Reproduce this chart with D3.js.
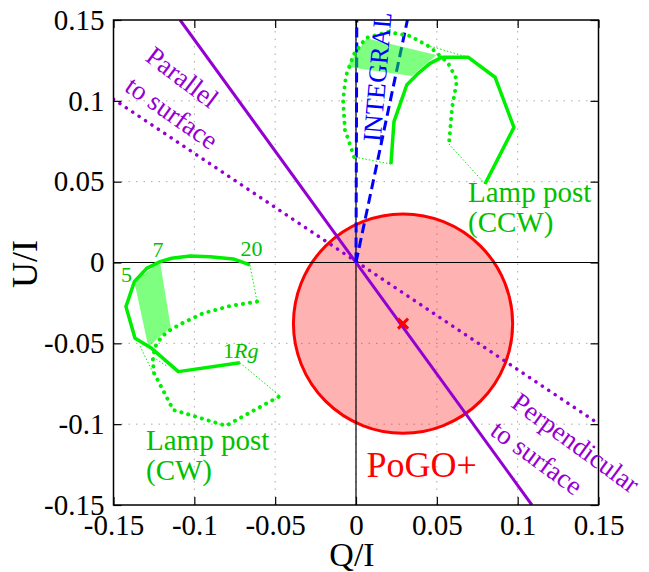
<!DOCTYPE html>
<meta charset="utf-8">
<title>Q/I - U/I</title>
<style>
body {
  margin: 0px;
  background: #fff;
}
svg, svg text {
  font-family: "Liberation Serif", Tinos, "Times New Roman", Times, serif !important;
}
.grid line {
  stroke: #aaaaaa;
  stroke-width: 1;
  stroke-dasharray: 1.5, 6;
}
</style>
<script src="https://d3js.org/d3.v7.min.js"></script>
<body>
<script>
var width = 649, height = 572;

// tick values and their labels
var ticks = [-0.15, -0.1, -0.05, 0, 0.05, 0.1, 0.15];
var tickLabels = ["-0.15", "-0.1", "-0.05", "0", "0.05", "0.1", "0.15"];

// lamp post, clockwise: thick solid (1 Rg ... 20 Rg) and thick dotted track
var cwSolid = [[-0.0718, -0.062], [-0.1099, -0.0675], [-0.1264, -0.0531], [-0.1367, -0.0469],
  [-0.1423, -0.0273], [-0.1371, -0.0119], [-0.1295, -0.0036], [-0.1212, 0.0005],
  [-0.114, 0.0026], [-0.1027, 0.004], [-0.0903, 0.0036], [-0.0759, 0.0022], [-0.0656, -0.0015]];
var cwDotted = [[-0.0612, -0.0242], [-0.0779, -0.0269], [-0.0946, -0.0314], [-0.1076, -0.0376],
  [-0.115, -0.0418], [-0.1202, -0.0459], [-0.1243, -0.0521], [-0.1257, -0.0603],
  [-0.1249, -0.0685], [-0.113, -0.0912], [-0.0804, -0.101], [-0.047, -0.0826]];
var cwBand = [[-0.1371, -0.0119], [-0.1212, 0.0005], [-0.1146, -0.0401], [-0.1285, -0.0521]];
var cwLinks = [
  [[-0.0656, -0.0015], [-0.0612, -0.0242]],
  [[-0.0718, -0.062], [-0.047, -0.0826]],
  [[-0.1336, -0.0517], [-0.1249, -0.0696]],
  [[-0.1254, -0.0586], [-0.1171, -0.064]]
];

// lamp post, counter-clockwise
var ccwSolid = [[0.0216, 0.0609], [0.0235, 0.0871], [0.0314, 0.1098], [0.0385, 0.117],
  [0.0458, 0.1232], [0.053, 0.1269], [0.0695, 0.1269], [0.086, 0.1146], [0.0977, 0.0836],
  [0.0798, 0.0486]];
var ccwDotted = [[-0.0012, 0.0653], [-0.0068, 0.082], [-0.008, 0.1005], [-0.0062, 0.1154],
  [-0.0012, 0.129], [0.0062, 0.1389], [0.0198, 0.1426], [0.0334, 0.1401], [0.0458, 0.1333],
  [0.0569, 0.1234], [0.0625, 0.1129], [0.0594, 0.0956], [0.0575, 0.0733]];
var ccwBand = [[0.0066, 0.1387], [0.0498, 0.1284], [0.0345, 0.1154], [-0.0057, 0.1211]];
var ccwLinks = [
  [[0.0216, 0.0609], [-0.0012, 0.0653]],
  [[0.0798, 0.0486], [0.0575, 0.0733]],
  [[0.0437, 0.1345], [0.0695, 0.1269]]
];

// reference directions
var parallelLine = [[-0.1088, 0.15], [0.1088, -0.15]];
var perpLine = [[-0.15, 0.101], [0.149, -0.099]];
var integralLines = [[[0, 0], [0.0005, 0.15]], [[0, 0], [0.0318, 0.15]]];

// PoGO+ measurement: centre and radius
var pogo = {q: 0.0291, u: -0.0378, r: 0.0678};

var x = d3.scaleLinear().domain([-0.15, 0.15]).range([113.5, 598.5]);
var y = d3.scaleLinear().domain([-0.15, 0.15]).range([505, 20]);
var line = d3.line().x(function(d) { return x(d[0]); }).y(function(d) { return y(d[1]); });

var svg = d3.select("body").append("svg")
    .attr("width", width)
    .attr("height", height);

svg.append("clipPath").attr("id", "plot")
  .append("rect")
    .attr("x", x(-0.15)).attr("y", y(0.15))
    .attr("width", x(0.15) - x(-0.15)).attr("height", y(-0.15) - y(0.15));

// grid
var grid = svg.append("g").attr("class", "grid");
grid.selectAll(".gx").data(ticks.slice(1, -1)).enter().append("line")
    .attr("x1", x).attr("x2", x).attr("y1", y(-0.15)).attr("y2", y(0.15));
grid.selectAll(".gy").data(ticks.slice(1, -1)).enter().append("line")
    .attr("y1", y).attr("y2", y).attr("x1", x(-0.15)).attr("x2", x(0.15));

var plot = svg.append("g").attr("clip-path", "url(#plot)");

// PoGO+ circle
plot.append("circle")
    .attr("cx", x(pogo.q)).attr("cy", y(pogo.u))
    .attr("r", x(pogo.r) - x(0))
    .attr("fill", "rgba(255,0,0,0.3)")
    .attr("stroke", "#ff0000")
    .attr("stroke-width", 3);

// zero lines
plot.append("line").attr("x1", x(-0.15)).attr("x2", x(0.15)).attr("y1", y(0)).attr("y2", y(0))
    .attr("stroke", "#000").attr("stroke-width", 1.2);
plot.append("line").attr("x1", x(0)).attr("x2", x(0)).attr("y1", y(-0.15)).attr("y2", y(0.15))
    .attr("stroke", "#000").attr("stroke-width", 1.2);

// polarisation directions
plot.append("path").attr("d", line(parallelLine))
    .attr("fill", "none").attr("stroke", "#9400d3").attr("stroke-width", 3);
plot.append("path").attr("d", line(perpLine))
    .attr("fill", "none").attr("stroke", "#9400d3").attr("stroke-width", 3.5)
    .attr("stroke-linecap", "round").attr("stroke-dasharray", "0.1,7.6");

// INTEGRAL
plot.selectAll(".integral").data(integralLines).enter().append("path")
    .attr("d", line)
    .attr("fill", "none").attr("stroke", "#0000ff").attr("stroke-width", 3)
    .attr("stroke-dasharray", "10,5");

// lamp post tracks
function track(pts, dotted) {
  var p = plot.append("path").attr("d", line(pts))
      .attr("fill", "none").attr("stroke", "#00ee00");
  if (dotted) {
    p.attr("stroke-width", 4).attr("stroke-linecap", "round").attr("stroke-dasharray", "0.1,7");
  } else {
    p.attr("stroke-width", 3.5).attr("stroke-linejoin", "round");
  }
}
track(cwSolid, false);
track(cwDotted, true);
track(ccwSolid, false);
track(ccwDotted, true);

plot.selectAll(".link").data(cwLinks.concat(ccwLinks)).enter().append("path")
    .attr("d", line)
    .attr("fill", "none").attr("stroke", "#00ee00").attr("stroke-width", 1)
    .attr("stroke-dasharray", "1.5,2");

plot.selectAll(".band").data([cwBand, ccwBand]).enter().append("path")
    .attr("d", function(d) { return line(d) + "Z"; })
    .attr("fill", "rgba(0,255,0,0.5)");

// PoGO+ centre marker
var cx = x(pogo.q), cy = y(pogo.u), s = 5;
plot.append("path")
    .attr("d", "M" + (cx - s) + "," + (cy - s) + "L" + (cx + s) + "," + (cy + s) +
               "M" + (cx - s) + "," + (cy + s) + "L" + (cx + s) + "," + (cy - s))
    .attr("stroke", "#ff0000").attr("stroke-width", 3);

// axes
var xAxis = d3.axisBottom(x).tickValues(ticks).tickSize(-8).tickPadding(9)
    .tickFormat(function(d, i) { return tickLabels[i]; });
var yAxis = d3.axisLeft(y).tickValues(ticks).tickSize(-8).tickPadding(9)
    .tickFormat(function(d, i) { return tickLabels[i]; });

function styleAxis(g) {
  g.attr("font-family", null).attr("font-size", null);
  g.select(".domain").remove();
  g.selectAll(".tick line").attr("stroke", "#000").attr("stroke-width", 1.2);
  g.selectAll(".tick text").attr("fill", "#000").style("font-size", "29px");
}
svg.append("g").attr("transform", "translate(0," + y(-0.15) + ")").call(xAxis).call(styleAxis);
svg.append("g").attr("transform", "translate(" + x(-0.15) + ",0)").call(yAxis).call(styleAxis);
svg.append("g").attr("transform", "translate(0," + y(0.15) + ")")
    .call(d3.axisTop(x).tickValues(ticks).tickSize(-8).tickFormat(""))
    .call(styleAxis);
svg.append("g").attr("transform", "translate(" + x(0.15) + ",0)")
    .call(d3.axisRight(y).tickValues(ticks).tickSize(-8).tickFormat(""))
    .call(styleAxis);

// frame
svg.append("rect")
    .attr("x", x(-0.15)).attr("y", y(0.15))
    .attr("width", x(0.15) - x(-0.15)).attr("height", y(-0.15) - y(0.15))
    .attr("fill", "none").attr("stroke", "#000").attr("stroke-width", 1.5);

// axis titles
svg.append("text").attr("x", 352).attr("y", 566)
    .attr("text-anchor", "middle").style("font-size", "34px").text("Q/I");
svg.append("text").attr("transform", "translate(37,264) rotate(-90)")
    .attr("text-anchor", "middle").style("font-size", "36px").text("U/I");

// labels
function label(txt, px, py, size, color, angle) {
  return svg.append("text")
      .attr("transform", "translate(" + px + "," + py + ") rotate(" + (angle || 0) + ")")
      .attr("text-anchor", "middle").attr("dy", "0.35em")
      .style("font-size", size + "px").attr("fill", color).text(txt);
}
label("Parallel", 182.5, 77, 27, "#9400d3", 37);
label("to surface", 172, 112.5, 27, "#9400d3", 35);
label("Perpendicular", 576, 442.5, 27, "#9400d3", 36);
label("to surface", 537, 457.5, 27, "#9400d3", 36);
label("INTEGRAL", 377, 77, 26, "#0000ff", -85);

function plain(txt, px, py, size, color, anchor) {
  return svg.append("text").attr("x", px).attr("y", py)
      .attr("text-anchor", anchor || "start")
      .style("font-size", size + "px").attr("fill", color).text(txt);
}
plain("Lamp post", 146, 450, 29, "#00c000");
plain("(CW)", 146, 480, 29, "#00c000");
plain("Lamp post", 468, 201.5, 29, "#00c000");
plain("(CCW)", 468, 232, 29, "#00c000");
plain("PoGO+", 366.5, 476.5, 36, "#ff0000");
plain("5", 126.5, 282, 22, "#00c000", "middle");
plain("7", 158, 256.5, 22, "#00c000", "middle");
plain("20", 251.5, 256, 22, "#00c000", "middle");
var rg = plain("1", 223, 358, 22, "#00c000");
rg.append("tspan").style("font-style", "italic").text("Rg");
</script>
